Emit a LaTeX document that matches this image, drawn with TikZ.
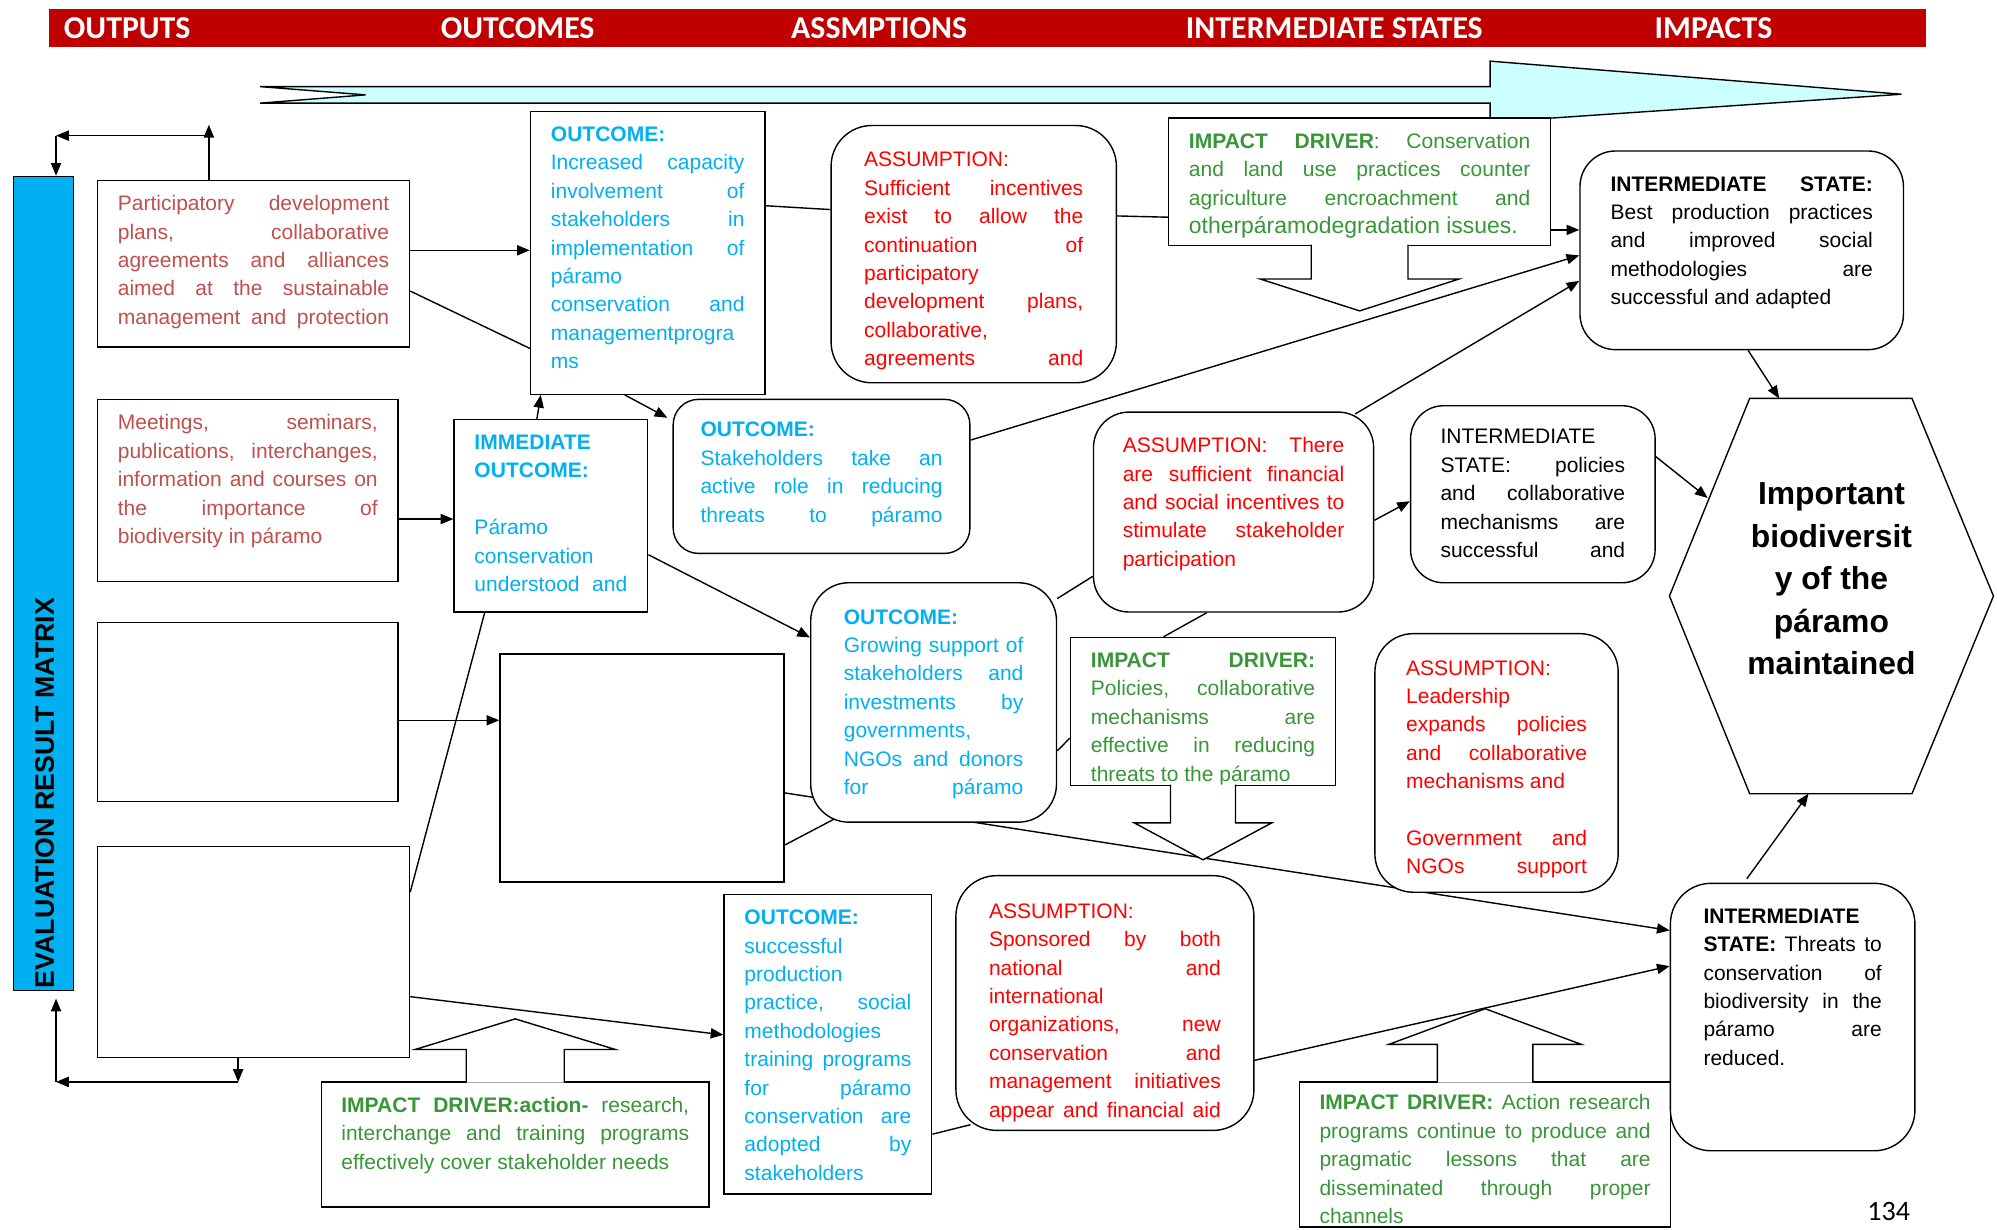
\documentclass[tikz,border=0pt]{standalone}
\usepackage{fontspec}
\setmainfont{Liberation Sans}
\newfontfamily\calibrif{Carlito}
\usepackage{tikz}
\usetikzlibrary{positioning, arrows.meta, backgrounds}
\usepackage{xcolor}
\definecolor{hdrred}{RGB}{192,0,0}
\definecolor{barblue}{RGB}{0,176,240}
\definecolor{outblue}{RGB}{0,176,240}
\definecolor{outred}{RGB}{192,80,77}
\definecolor{asmred}{RGB}{255,0,0}
\definecolor{drvgreen}{RGB}{56,150,56}
\definecolor{flowcyan}{RGB}{204,255,255}
\tikzstyle{arrow} = [line width=1.1pt,-{Triangle[length=10pt,width=8pt]}]
\tikzstyle{link} = [line width=1.1pt]
\newcommand{\jl}[1]{\makebox[\linewidth][s]{#1}}
\newcommand{\boxtext}[3]{\parbox[t][#2][t]{#1}{#3}}

\begin{document}
\begin{tikzpicture}[x=1pt, y=-1pt,
    sqbox/.style={draw, line width=1.1pt, fill=white, anchor=north west, inner xsep=16pt, inner ysep=12pt, font=\fontsize{16.5}{22.3}\selectfont},
    rbox/.style={sqbox, rounded corners=28pt, inner ysep=20pt},
    blankbox/.style={draw, line width=1.1pt, fill=white, anchor=north west, inner sep=0pt},
    callout/.style={draw, line width=1.1pt, fill=white},
    hdrtext/.style={text=white, anchor=west, inner sep=0pt, font=\calibrif\bfseries\fontsize{25}{25}\selectfont}
  ]
  \useasboundingbox (0,0) rectangle (1568,965);

  \node[fill=hdrred, anchor=north west, inner sep=0pt, minimum width=1474pt, minimum height=30pt] (hdr) at (38,7) {};
  \foreach \xpos/\hname [count=\i] in {50/OUTPUTS, 346/OUTCOMES, 621/ASSMPTIONS, 931/INTERMEDIATE STATES, 1299/IMPACTS}
    \node[hdrtext] (hd\i) at (\xpos,22) {\hname};

  \draw[line width=1.1pt, fill=flowcyan] (204,68) -- (1170,68) -- (1170,48) -- (1493,74) -- (1170,96) -- (1170,81) -- (204,81) -- (287,74.5) -- cycle;

  \node[blankbox, fill=barblue, minimum width=47pt, minimum height=639pt] (bar) at (10,138) {};
  \node[rotate=90, anchor=west, inner sep=0pt, font=\bfseries\fontsize{21}{21}\selectfont] (bartxt) at (35,776) {EVALUATION RESULT MATRIX};

  \node[sqbox, text=outred] (part) at (76,141) {\boxtext{213pt}{107pt}{%
    \jl{Participatory development}\\
    \jl{plans, collaborative}\\
    \jl{agreements and alliances}\\
    \jl{aimed at the sustainable}\\
    \jl{management and protection}}};
  \node[sqbox, text=outred] (meet) at (76,313) {\boxtext{204pt}{119pt}{%
    \jl{Meetings, seminars,}\\
    \jl{publications, interchanges,}\\
    \jl{information and courses on}\\
    \jl{the importance of}\\
    biodiversity in páramo}};
  \node[blankbox, minimum width=236pt, minimum height=141pt] (emp1) at (76,488) {};
  \node[blankbox, minimum width=245pt, minimum height=166pt] (emp2) at (76,664) {};
  \node[blankbox, minimum width=223pt, minimum height=179pt] (emp3) at (392,513) {};

  \node[sqbox, text=outblue] (out1) at (416,87) {\boxtext{152pt}{198pt}{%
    \textbf{OUTCOME:}\\
    \jl{Increased capacity}\\
    \jl{involvement of}\\
    \jl{stakeholders in}\\
    \jl{implementation of}\\
    páramo\\
    \jl{conservation and}\\
    managementprogra\\
    ms}};
  \node[sqbox, text=outblue] (imm) at (356,329) {\boxtext{120pt}{127pt}{%
    \textbf{IMMEDIATE}\\
    \textbf{OUTCOME:}\\
    \mbox{}\\
    Páramo\\
    conservation\\
    \jl{understood and}}};
  \node[rbox, text=outblue, rounded corners=20pt, inner xsep=21.5pt, inner ysep=18pt] (stk) at (528,313) {\boxtext{190pt}{85pt}{%
    \textbf{OUTCOME:}\\
    \jl{Stakeholders take an}\\
    \jl{active role in reducing}\\
    \jl{threats to páramo}}};
  \node[rbox, text=outblue, rounded corners=30pt, inner xsep=26pt, inner ysep=21pt] (out3) at (636,457) {\boxtext{141pt}{146pt}{%
    \textbf{OUTCOME:}\\
    \jl{Growing support of}\\
    \jl{stakeholders and}\\
    \jl{investments by}\\
    governments,\\
    \jl{NGOs and donors}\\
    \jl{for páramo}}};
  \node[sqbox, text=outblue] (out4) at (568,702) {\boxtext{131pt}{211pt}{%
    \textbf{OUTCOME:}\\
    successful\\
    production\\
    \jl{practice, social}\\
    methodologies\\
    \jl{training programs}\\
    \jl{for páramo}\\
    \jl{conservation are}\\
    \jl{adopted by}\\
    stakeholders}};

  \node[rbox, text=asmred, rounded corners=32pt, inner xsep=26pt, inner ysep=21pt] (asm1) at (652,98) {\boxtext{172pt}{160pt}{%
    ASSUMPTION:\\
    \jl{Sufficient incentives}\\
    \jl{exist to allow the}\\
    \jl{continuation of}\\
    participatory\\
    \jl{development plans,}\\
    collaborative,\\
    \jl{agreements and}}};
  \node[rbox, text=asmred, inner xsep=23pt, inner ysep=20pt] (asm2) at (858,323) {\boxtext{174pt}{117pt}{%
    \jl{ASSUMPTION: There}\\
    \jl{are sufficient financial}\\
    \jl{and social incentives to}\\
    \jl{stimulate stakeholder}\\
    participation}};
  \node[rbox, text=asmred, rounded corners=30pt, inner xsep=24.5pt, inner ysep=21pt] (asm3) at (1079,497) {\boxtext{142pt}{161pt}{%
    ASSUMPTION:\\
    Leadership\\
    \jl{expands policies}\\
    \jl{and collaborative}\\
    mechanisms and\\
    \mbox{}\\
    \jl{Government and}\\
    \jl{NGOs support}}};
  \node[rbox, text=asmred, rounded corners=32pt, inner xsep=26pt, inner ysep=22pt] (asm4) at (750,687) {\boxtext{182pt}{156pt}{%
    ASSUMPTION:\\
    \jl{Sponsored by both}\\
    \jl{national and}\\
    international\\
    \jl{organizations, new}\\
    \jl{conservation and}\\
    \jl{management initiatives}\\
    \jl{appear and financial aid}}};

  \node[sqbox, text=drvgreen] (drv1) at (917,92) {\boxtext{268pt}{76pt}{%
    \jl{\textbf{IMPACT DRIVER}: Conservation}\\
    \jl{and land use practices counter}\\
    \jl{agriculture encroachment and}\\
    {\fontsize{18}{22.3}\selectfont otherpáramodegradation issues.}}};
  \node[sqbox, text=drvgreen] (drv2) at (840,500) {\boxtext{176pt}{92pt}{%
    \jl{\textbf{IMPACT DRIVER:}}\\
    \jl{Policies, collaborative}\\
    \jl{mechanisms are}\\
    \jl{effective in reducing}\\
    threats to the páramo}};
  \node[sqbox, text=drvgreen, inner xsep=15.5pt] (drv3) at (252,849) {\boxtext{273pt}{74pt}{%
    \jl{\textbf{IMPACT DRIVER:action-} research,}\\
    \jl{interchange and training programs}\\
    effectively cover stakeholder needs}};
  \node[sqbox, text=drvgreen, inner xsep=15.5pt, inner ysep=10pt] (drv4) at (1020,849) {\boxtext{260pt}{94pt}{%
    \jl{\textbf{IMPACT DRIVER:} Action research}\\
    \jl{programs continue to produce and}\\
    \jl{pragmatic lessons that are}\\
    \jl{disseminated through proper}\\
    channels}};

  \node[rbox, inner xsep=24pt, inner ysep=20pt] (IS1) at (1240,118) {\boxtext{206pt}{116pt}{%
    \jl{\textbf{INTERMEDIATE STATE:}}\\
    \jl{Best production practices}\\
    \jl{and improved social}\\
    \jl{methodologies are}\\
    successful and adapted}};
  \node[rbox, rounded corners=26pt, inner xsep=23.5pt, inner ysep=18.7pt] (IS2) at (1107,318) {\boxtext{145pt}{101.6pt}{%
    INTERMEDIATE\\
    \jl{STATE: policies}\\
    \jl{and collaborative}\\
    \jl{mechanisms are}\\
    \jl{successful and}}};
  \node[rbox, rounded corners=32pt, inner xsep=26pt, inner ysep=20pt] (IS3) at (1311,693) {\boxtext{140pt}{170pt}{%
    \textbf{INTERMEDIATE}\\
    \jl{\textbf{STATE:} Threats to}\\
    \jl{conservation of}\\
    \jl{biodiversity in the}\\
    \jl{páramo are}\\
    reduced.}};

  \node[minimum width=254pt, minimum height=310pt, inner sep=0pt] (hex) at (1438,468) {};
  \draw[line width=1.1pt, fill=white] (hex.west) -- ([xshift=63pt]hex.north west) -- ([xshift=-64pt]hex.north east) -- (hex.east) -- ([xshift=-64pt]hex.south east) -- ([xshift=63pt]hex.south west) -- cycle;
  \node[align=center, font=\bfseries\fontsize{25}{33.3}\selectfont] (hextxt) at ([yshift=13.5pt]hex.center) {Important\\biodiversit\\y of the\\páramo\\maintained};

  \draw[callout] ([xshift=-38pt,yshift=1pt]drv1.south) -- ++(0,27) -- ++(-40,0) -- ++(78,25) -- ++(78,-25) -- ++(-40,0) -- ++(0,-27);
  \draw[callout] ([xshift=-25.5pt,yshift=1pt]drv2.south) -- ++(0,30) -- ++(-28.5,0) -- ++(54,29) -- ++(54,-29) -- ++(-28.5,0) -- ++(0,-30);
  \draw[callout] ([xshift=-38.5pt,yshift=-1pt]drv3.north) -- ++(0,-26) -- ++(-40,0) -- ++(78.5,-24) -- ++(78.5,24) -- ++(-40,0) -- ++(0,26);
  \draw[callout] ([xshift=-37.5pt,yshift=-1pt]drv4.north) -- ++(0,-30) -- ++(-38,0) -- ++(75.5,-28) -- ++(75.5,28) -- ++(-38,0) -- ++(0,30);

  \node[inner sep=0pt, font=\calibrif\fontsize{22}{22}\selectfont] (pgno) at (1483,951) {134};

  \coordinate (fbup) at (164,98);
  \coordinate (fbcorner) at (44,106.5);
  \coordinate (fbdown) at (187,849.5);
  \coordinate (fbcorner2) at (44,849.5);
  \draw[arrow] (part.north -| fbup) -- (fbup);
  \draw[arrow] (fbup |- fbcorner) -- (fbcorner);
  \draw[arrow] (fbcorner) -- (fbcorner |- bar.north);
  \draw[arrow] (emp2.south -| fbdown) -- (fbdown);
  \draw[arrow] (fbdown) -- (fbcorner2);
  \draw[arrow] (fbcorner2) -- ([yshift=-6pt]fbcorner2 |- bar.south);

  \draw[arrow] ([yshift=10.5pt]part.east) -- ([yshift=10.5pt]part.east -| out1.west);
  \draw[link] ([yshift=-21.5pt]part.east) -- ([yshift=-75pt]out1.west);
  \draw[arrow] ([yshift=-22.5pt]meet.east) -- ([yshift=-22.5pt]meet.east -| imm.west);
  \draw[arrow] ([yshift=-6.5pt]emp1.east) -- ([yshift=-6.5pt]emp1.east -| emp3.west);
  \draw[link] ([xshift=-52pt]imm.south) -- ([yshift=47pt]emp2.east);
  \draw[arrow] ([yshift=-35pt]emp2.east) -- ([yshift=7.5pt]out4.west);
  \draw[arrow] ([xshift=-11pt]imm.north) -- ([xshift=-84pt]out1.south);
  \draw[arrow] ([xshift=-18pt]out1.south) -- ([xshift=-4pt,yshift=-15pt]stk.north west);
  \draw[arrow] ([yshift=-30.5pt]imm.east) -- ([yshift=51pt]out3.west);
  \begin{scope}[on background layer]
    \draw[arrow] ([yshift=-19.5pt]emp3.east) -- ([yshift=68pt]IS3.west);
    \draw[link] ([yshift=-60.5pt]emp3.east) -- ([xshift=19pt,yshift=3pt]out3.south west);
  \end{scope}

  \draw[link] ([yshift=37pt]out1.east) -- ([yshift=35pt]asm1.west);
  \draw[link] ([yshift=30pt]asm1.east) -- ([yshift=-28pt]drv1.west);
  \draw[arrow] ([yshift=-38pt]drv1.east) -- ([yshift=-38pt]drv1.east -| IS1.west);
  \draw[arrow] ([yshift=28.5pt]stk.east) -- ([yshift=-4pt]IS1.west);
  \draw[arrow] ([xshift=-15pt,yshift=-2pt]asm2.north east) -- ([yshift=-24pt]IS1.west);
  \draw[arrow] ([xshift=5pt]IS1.south) -- ([xshift=-41pt]hex.north);
  \draw[link] ([yshift=-13pt]out3.north east) -- ([yshift=-50.5pt]asm2.west);
  \draw[arrow] ([yshift=-6.5pt]asm2.east) -- ([yshift=-5.5pt]IS2.west);
  \draw[arrow] ([yshift=29.5pt]IS2.east) -- ([xshift=30pt,yshift=77pt]hex.west);
  \draw[link] ([xshift=-21pt]asm2.south) -- ([xshift=-31pt]drv2.north);
  \draw[link] ([yshift=-38pt]out3.east) -- ([yshift=-21pt]drv2.west);
  \draw[link] ([yshift=-70.5pt]out4.east) -- ([xshift=12pt,yshift=5pt]asm4.south west);
  \draw[arrow] ([yshift=-45pt]asm4.east) -- ([yshift=40pt]IS3.west);
  \draw[arrow] ([xshift=-36pt,yshift=3pt]IS3.north) -- ([xshift=-18pt]hex.south);

\end{tikzpicture}
\end{document}
